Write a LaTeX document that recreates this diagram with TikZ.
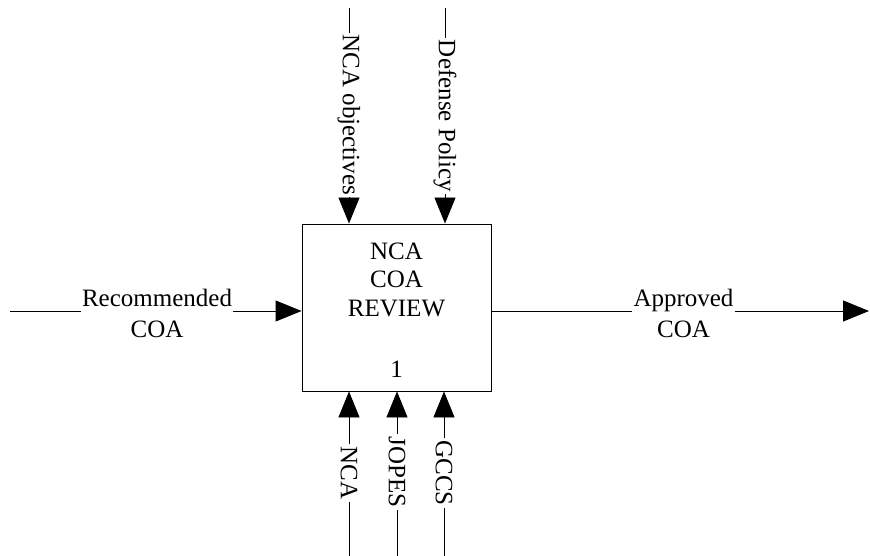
\documentclass[tikz,border=0pt]{standalone}
\usepackage{fontspec}
\setmainfont{Liberation Serif}
\usetikzlibrary{arrows.meta}
\begin{document}
\begin{tikzpicture}[x=1pt,y=-1pt,
  line/.style={draw=black,line width=0.9pt},
  arr/.style={line,-{Triangle[length=26pt,width=21pt]}},
  lbl/.style={font=\fontsize{25}{31}\selectfont,inner sep=1pt,align=center},
  vlbl/.style={font=\fontsize{25}{30}\selectfont,inner sep=2pt,rotate=-90},
  boxtxt/.style={font=\fontsize{25}{28.5}\selectfont,inner sep=0pt,align=center}]
\useasboundingbox (0,0) rectangle (870,556);
% box
\node[line,minimum width=189pt,minimum height=167pt,inner sep=0pt] (box) at (396.5,307.5) {};
\node[boxtxt,anchor=north] (title) at ([yshift=-19pt]box.north) {NCA\\COA\\REVIEW};
\node[boxtxt,anchor=south] (num) at ([yshift=14pt]box.south) {1};
% input
\coordinate (inS) at (10,311);
\node[lbl] (inL) at (157,313) {Recommended\\COA};
\draw[line] (inS) -- (inS -| inL.west);
\draw[arr] (inS -| inL.east) -- (inS -| box.west);
% output
\coordinate (outE) at (869,311);
\node[lbl] (outL) at (683.5,313) {Approved\\COA};
\draw[line] (outE -| box.east) -- (outE -| outL.west);
\draw[arr] (outE -| outL.east) -- (outE);
% controls
\coordinate (c1S) at (349,8);
\node[vlbl] (c1L) at (349,115) {NCA objectives};
\draw[line] (c1S) -- (c1L);
\draw[arr] (c1L) -- (c1L |- box.north);
\coordinate (c2S) at (445,8);
\node[vlbl] (c2L) at (445,116) {Defense Policy};
\draw[line] (c2S) -- (c2L);
\draw[arr] (c2L) -- (c2L |- box.north);
% mechanisms
\coordinate (m1S) at (349,556);
\node[vlbl] (m1L) at (349,473) {NCA};
\draw[line] (m1S) -- (m1L);
\draw[arr] (m1L) -- (m1L |- box.south);
\coordinate (m2S) at (397,556);
\node[vlbl] (m2L) at (397,472) {JOPES};
\draw[line] (m2S) -- (m2L);
\draw[arr] (m2L) -- (m2L |- box.south);
\coordinate (m3S) at (444,556);
\node[vlbl] (m3L) at (444,473) {GCCS};
\draw[line] (m3S) -- (m3L);
\draw[arr] (m3L) -- (m3L |- box.south);
\end{tikzpicture}
\end{document}
